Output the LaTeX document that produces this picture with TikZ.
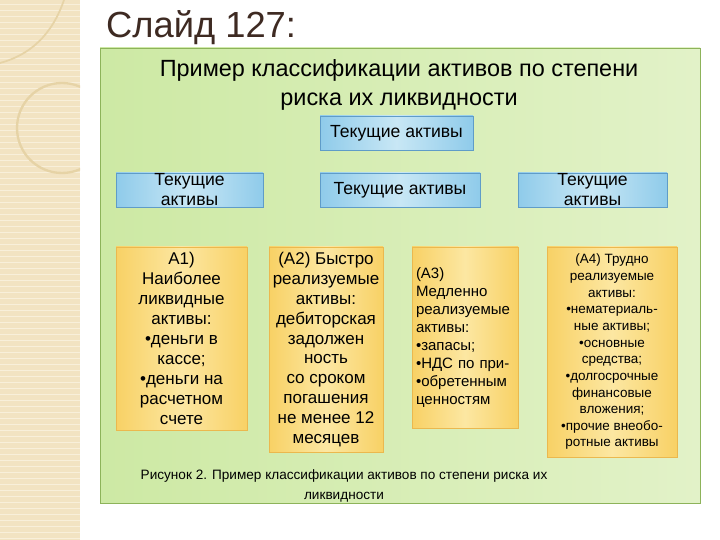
\documentclass[tikz,border=0pt]{standalone}
\usepackage{fontspec}
\setmainfont{Liberation Sans}
\usetikzlibrary{positioning}
\definecolor{slStrip}{HTML}{F2E3C2}
\definecolor{slStripLine}{HTML}{F8EFDA}
\definecolor{slRing}{HTML}{E6D3A6}
\definecolor{slTitle}{HTML}{3E2A22}
\definecolor{slPanel}{HTML}{CDE9A4}
\definecolor{slPanelHi}{HTML}{E2F2C8}
\definecolor{slPanelEdge}{HTML}{8DB35A}
\definecolor{slBlueDeep}{HTML}{8FCBEA}
\definecolor{slBlueHi}{HTML}{C8E7F5}
\definecolor{slBlueEdge}{HTML}{5F9CC8}
\definecolor{slGold}{HTML}{F8D165}
\definecolor{slGoldHi}{HTML}{FCE7A2}
\definecolor{slGoldEdge}{HTML}{EBB84E}

\begin{document}
\begin{tikzpicture}[
      x=0.03cm,y=-0.03cm,
      curbox/.style={draw=slBlueEdge,left color=slBlueDeep,right color=slBlueDeep,
                     middle color=slBlueHi,minimum height=34*0.03cm,inner sep=0pt,
                     align=center,font=\fontsize{15}{17}\selectfont},
      assetbox/.style={draw=slGoldEdge,line width=0.8pt,left color=slGold,right color=slGold,
                       middle color=slGoldHi,inner sep=0pt,align=center,
                       font=\fontsize{14.5}{17}\selectfont},
      lbl/.style={align=center,inner sep=0pt}
    ]
    \useasboundingbox (0,0) rectangle (720,540);

    % left decorative strip
    \fill[slStrip] (0,0) rectangle (80,540);
    \foreach \y in {4,10,...,540}
      \draw[slStripLine,line width=0.6pt] (0,\y) -- (80,\y);
    \begin{scope}
      \clip (0,0) rectangle (80,540);
      \draw[slRing,line width=2pt] (62,128) circle (45);
      \draw[slRing,line width=1.5pt] (64,0) .. controls (52,35) and (30,55) .. (0,63);
    \end{scope}

    \node[lbl,text=slTitle,font=\fontsize{31}{34}\selectfont,anchor=base west]
      (slidetitle) at (106,38) {Слайд 127:};

    \filldraw[draw=slPanelEdge,line width=0.8pt,left color=slPanel,right color=slPanelHi]
      (100,48) rectangle (700,503);

    \node[lbl,font=\fontsize{20}{24.6}\selectfont] (heading) at (399,85)
      {Пример классификации активов по степени\\риска их ликвидности};

    \node[curbox,minimum width=153*0.03cm] (top) at (396.5,133) {Текущие активы};
    \node[curbox,minimum width=147*0.03cm] (cur1) at (189.5,190) {Текущие\\активы};
    \node[curbox,minimum width=160*0.03cm] (cur2) at (400,190) {Текущие активы};
    \node[curbox,minimum width=149*0.03cm] (cur3) at (592.5,190) {Текущие\\активы};

    \node[assetbox,minimum width=131*0.03cm,minimum height=183*0.03cm] (a1) at (181.5,338.5)
      {А1)\\Наиболее\\ликвидные\\активы:\\•деньги в\\кассе;\\•деньги на\\расчетном\\счете};
    \node[assetbox,minimum width=114*0.03cm,minimum height=205*0.03cm] (a2) at (326,349.5)
      {(А2) Быстро\\реализуемые\\активы:\\дебиторская\\задолжен\\ность\\со сроком\\погашения\\не менее 12\\месяцев};
    \node[assetbox,minimum width=106*0.03cm,minimum height=181*0.03cm,align=left,
          text width=98*0.03cm,font=\fontsize{12.8}{15.3}\selectfont] (a3) at (465,337.5)
      {(А3)\\Медленно\\реализуемые\\активы:\\•запасы;\\•НДС по при-\\•обретенным\\ценностям\\[10pt]};
    \node[assetbox,minimum width=130*0.03cm,minimum height=210*0.03cm,
          font=\fontsize{11.5}{14.2}\selectfont] (a4) at (612,352)
      {(А4) Трудно\\реализуемые\\активы:\\•нематериаль-\\ные активы;\\•основные\\средства;\\•долгосрочные\\финансовые\\вложения;\\•прочие внеобо-\\ротные активы};

    \node[lbl,font=\fontsize{11.6}{17}\selectfont] (caption) at (344,486)
      {Рисунок 2. Пример классификации активов по степени риска их\\ликвидности};
  \end{tikzpicture}
\end{document}
